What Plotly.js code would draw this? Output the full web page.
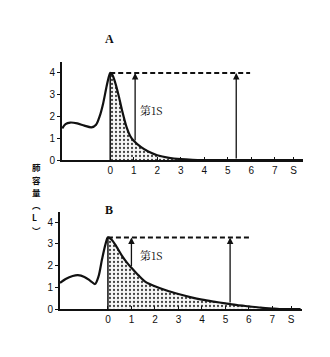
<!DOCTYPE html>
<html><head><meta charset="utf-8">
<script src="https://cdn.plot.ly/plotly-3.0.1.min.js"></script>
<style>html,body{margin:0;padding:0;background:#fff}#c{width:330px;height:357px}</style>
</head><body><div id="c"></div>
<script>
// Chart A: normal
const timeA = [-2.04,-1.9,-1.7,-1.4,-1.1,-0.8,-0.6,-0.45,-0.3,-0.15,-0.05,0.0,0.1,0.2,0.35,0.5,0.7,0.85,1.0,1.3,1.6,2.0,2.5,3.0,3.5,4.0,5.0,6.0,7.0,8.2];
const volA  = [1.45,1.65,1.72,1.68,1.58,1.5,1.62,2.0,2.6,3.4,3.85,4.0,3.9,3.6,3.0,2.3,1.5,1.1,0.88,0.6,0.4,0.22,0.1,0.04,0.01,0.0,0.0,0.0,0.0,0.0];
// Chart B: obstructive
const timeB = [-2.04,-1.8,-1.5,-1.28,-1.0,-0.75,-0.55,-0.4,-0.25,-0.1,0.0,0.15,0.35,0.6,0.8,1.0,1.3,1.6,2.0,2.5,3.0,3.5,4.0,4.5,5.0,5.5,6.0,6.5,7.0,7.3,8.2];
const volB  = [1.2,1.38,1.52,1.56,1.48,1.3,1.15,1.5,2.3,3.0,3.3,3.2,2.9,2.45,2.15,1.9,1.55,1.25,1.05,0.85,0.69,0.55,0.43,0.34,0.26,0.18,0.12,0.06,0.02,0.0,0.0];
const xTickVals = [0,1,2,3,4,5,6,7,7.8];
const xTickText = ['0','1','2','3','4','5','6','7','S'];
const yTickVals = [0,1,2,3,4];
const fev1Time = [1.06, 1.0];    // arrow for first second (A, B)
const fvcTime  = [5.36, 5.2];    // arrow for total (A, B)
const dashEnd  = [5.95, 6.05];   // end of dashed peak lines
const fillEnd  = [4.2, 7.3];
const panelLabels = ['A','B'];
const firstSecLabel = '第1S';
const labelPos = [[1.2, 2.3], [1.3, 2.5]];
const yTitleChars = ['肺','容','量','︵','L','︶'];

function interp(ts, vs, t){
  for(let i=1;i<ts.length;i++){ if(ts[i]>=t){ const f=(t-ts[i-1])/(ts[i]-ts[i-1]); return vs[i-1]+f*(vs[i]-vs[i-1]); } }
  return vs[vs.length-1];
}

const sets = [[timeA,volA],[timeB,volB]];
const traces = [];
const annotations = [];
sets.forEach(([ts,vs],k)=>{
  const xa = k===0?'x':'x2', ya = k===0?'y':'y2';
  const pk = Math.max(...vs), tp = ts[vs.indexOf(pk)];
  const fx=[], fy=[];
  ts.forEach((t,i)=>{ if(t>=tp && t<=fillEnd[k]){fx.push(t);fy.push(vs[i]);} });
  traces.push({x:fx,y:fy,xaxis:xa,yaxis:ya,mode:'lines',line:{width:0,shape:'spline',smoothing:0.8},fill:'tozeroy',
    fillcolor:'rgba(0,0,0,0)',fillpattern:{shape:'.',size:4,solidity:0.25,fgcolor:'#444',bgcolor:'#f7f7f7'},hoverinfo:'skip'});
  traces.push({x:ts,y:vs,xaxis:xa,yaxis:ya,mode:'lines',line:{color:'#111',width:2.2,shape:'spline',smoothing:0.8}});
  traces.push({x:[tp,tp],y:[0,pk],xaxis:xa,yaxis:ya,mode:'lines',line:{color:'#111',width:1.5}});
  traces.push({x:[tp,dashEnd[k]],y:[pk,pk],xaxis:xa,yaxis:ya,mode:'lines',line:{color:'#111',width:2,dash:'5px,3px'}});
  const v1 = interp(ts,vs,fev1Time[k]);
  const v2 = interp(ts,vs,fvcTime[k]);
  [[fev1Time[k],v1],[fvcTime[k],v2]].forEach(([t,v])=>{
    annotations.push({x:t,y:pk,ax:t,ay:v,xref:xa,yref:ya,axref:xa,ayref:ya,text:'',showarrow:true,
      arrowhead:2,arrowsize:1,arrowwidth:1.3,arrowcolor:'#111'});
  });
  annotations.push({x:labelPos[k][0],y:labelPos[k][1],xref:xa,yref:ya,text:firstSecLabel,showarrow:false,
    xanchor:'left',font:{family:'Noto Serif CJK SC, Noto Sans CJK SC, serif',size:11,color:'#111'}});
});
annotations.push({x:103/330,y:1-30/357,xref:'paper',yref:'paper',text:'<b>'+panelLabels[0]+'</b>',showarrow:false,
  font:{family:'Liberation Serif',size:12,color:'#111'}});
annotations.push({x:103/330,y:1-210/357,xref:'paper',yref:'paper',text:'<b>'+panelLabels[1]+'</b>',showarrow:false,
  font:{family:'Liberation Serif',size:12,color:'#111'}});
yTitleChars.forEach((ch,i)=>{
  annotations.push({x:31/330,y:1-(167+i*12.6)/357,xref:'paper',yref:'paper',text:'<b>'+ch+'</b>',showarrow:false,
    borderpad:0,font:{family:'Noto Sans CJK SC',size:8.5,color:'#111'}});
});

const axX = {range:[-2.05,8.2],showgrid:false,zeroline:false,showline:true,linecolor:'#111',linewidth:2,
  tickmode:'array',tickvals:xTickVals,ticktext:xTickText,ticks:'inside',ticklen:3,tickcolor:'#111',
  tickfont:{family:'Liberation Sans',size:10,color:'#111'}};
const axY = {showgrid:false,zeroline:false,showline:true,linecolor:'#111',linewidth:2,
  tickmode:'array',tickvals:yTickVals,ticks:'outside',ticklen:3,tickcolor:'#111',
  tickfont:{family:'Liberation Sans',size:10,color:'#111'}};

const layout = {
  width:330,height:357,margin:{l:0,r:0,t:0,b:0},paper_bgcolor:'#fff',plot_bgcolor:'rgba(0,0,0,0)',showlegend:false,
  xaxis:Object.assign({},axX,{domain:[62/330,303/330],anchor:'y'}),
  yaxis:Object.assign({},axY,{range:[0,4.5],domain:[1-160/357,1-62/357],anchor:'x'}),
  xaxis2:Object.assign({},axX,{range:[-2.04,8.26],domain:[60/330,302/330],anchor:'y2'}),
  yaxis2:Object.assign({},axY,{range:[0,4.47],domain:[1-309/357,1-212/357],anchor:'x2'}),
  annotations:annotations
};
Plotly.newPlot('c',traces,layout,{staticPlot:true});
</script></body></html>
